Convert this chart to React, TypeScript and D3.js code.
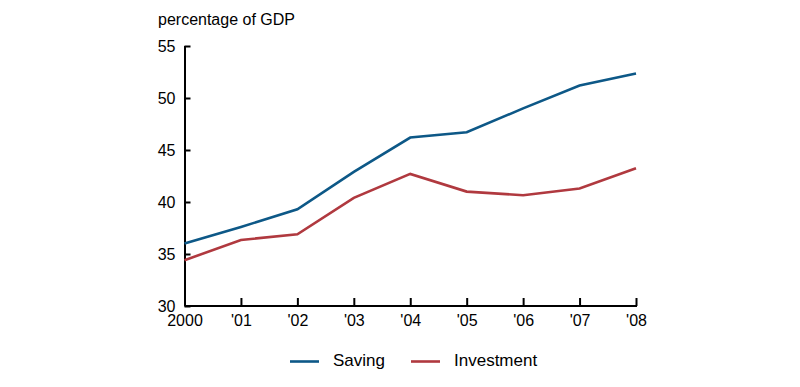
import React, { useRef, useEffect } from "react";
import * as d3 from "d3";

const years = ["2000", "'01", "'02", "'03", "'04", "'05", "'06", "'07", "'08"];
const saving = [36.0, 37.6, 39.3, 42.9, 46.2, 46.7, 49.0, 51.2, 52.35];
const investment = [34.4, 36.35, 36.9, 40.4, 42.7, 41.0, 40.65, 41.3, 43.25];
const yTicks = [30, 35, 40, 45, 50, 55];

const BLUE = "#0d5887";
const RED = "#b0393f";
const FONT = "'Liberation Sans', Arial, sans-serif";

const App = () => {
  const ref = useRef<SVGSVGElement>(null);

  useEffect(() => {
    const svg = d3.select(ref.current);
    svg.selectAll("*").remove();

    const x = d3.scaleLinear().domain([0, years.length - 1]).range([184.5, 636]);
    const y = d3.scaleLinear().domain([30, 55]).range([306, 46]);

    const g = svg.append("g").style("font-family", FONT);

    // y axis, ticks point inward
    const yAxis = g.append("g")
      .attr("transform", "translate(184.5,0)")
      .call(d3.axisRight(y).tickValues(yTicks).tickSize(6).tickFormat(d3.format("d")));
    yAxis.select(".domain").attr("stroke", "#000").attr("stroke-width", 2).attr("d", `M0.5,${y(55)}V${y(30)}`);
    yAxis.selectAll(".tick line").attr("stroke", "#000").attr("stroke-width", 2);
    yAxis.selectAll(".tick text")
      .attr("x", -9)
      .attr("text-anchor", "end")
      .style("font-size", "16px")
      .style("font-family", FONT)
      .attr("fill", "#000");

    // x axis, ticks pointing up
    const xAxis = g.append("g")
      .attr("transform", "translate(0,306)")
      .call(d3.axisTop(x).tickValues(d3.range(years.length)).tickSize(8).tickFormat(i => years[i as number]));
    xAxis.select(".domain").attr("stroke", "#000").attr("stroke-width", 2).attr("d", `M${x(0)},0H${x(8) + 1}`);
    xAxis.selectAll(".tick line").attr("stroke", "#000").attr("stroke-width", 2);
    xAxis.selectAll(".tick text")
      .attr("y", 20)
      .style("font-size", "16px")
      .style("font-family", FONT)
      .attr("fill", "#000");

    g.append("text")
      .attr("x", 158)
      .attr("y", 25)
      .style("font-size", "16px")
      .text("percentage of GDP");

    const line = d3.line<number>().x((d, i) => x(i)).y(d => y(d));

    g.append("path").datum(investment)
      .attr("d", line).attr("fill", "none").attr("stroke", RED).attr("stroke-width", 2.6);
    g.append("path").datum(saving)
      .attr("d", line).attr("fill", "none").attr("stroke", BLUE).attr("stroke-width", 2.6);

    // legend
    const legend = [
      { name: "Saving", color: BLUE, x: 290 },
      { name: "Investment", color: RED, x: 411 },
    ];
    const lg = g.append("g").selectAll("g").data(legend).join("g")
      .attr("transform", d => `translate(${d.x},361.5)`);
    lg.append("line").attr("x1", 0).attr("x2", 29).attr("y1", 0).attr("y2", 0)
      .attr("stroke", d => d.color).attr("stroke-width", 2.6);
    lg.append("text").attr("x", 43).attr("y", 4)
      .style("font-size", "17px").text(d => d.name);
  }, []);

  return (
    <svg ref={ref} width={800} height={387}
      style={{ position: "absolute", left: 0, top: 0, background: "#fff" }} />
  );
};

export default App;
